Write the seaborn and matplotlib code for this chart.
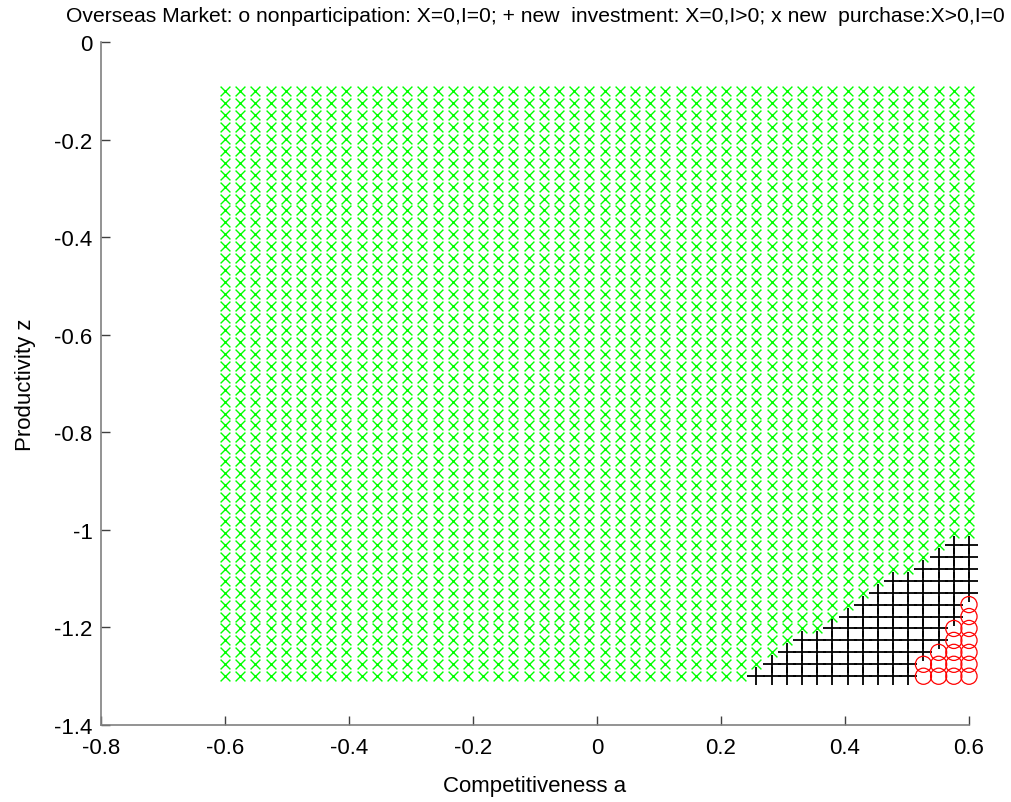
import numpy as np
import pandas as pd
import matplotlib
matplotlib.use("Agg")
import matplotlib.pyplot as plt
import seaborn as sns

# ---- sampling grid of the model (competitiveness a, productivity z) ----
a_min, a_max, n_a = -0.6, 0.6, 50
z_min, z_max, n_z = -1.3, -0.1, 50
a_grid = np.linspace(a_min, a_max, n_a)
z_grid = np.linspace(z_min, z_max, n_z)

# ---- regime boundaries ----
# for each z row (counted from the bottom), first a-column index that is "+" (new investment)
plus_row_start = [35, 36, 37, 38, 40, 41, 42, 43, 44, 46, 47, 48]
# for each z row (from the bottom), first a-column index that is "o" (nonparticipation)
circle_row_start = [46, 46, 47, 48, 48, 49, 49]

regime_names = ["nonparticipation", "new investment", "new purchase"]

title_text = ("Overseas Market: o nonparticipation: X=0,I=0; + new  investment: "
              "X=0,I>0; x new  purchase:X>0,I=0")
xlabel_text = "Competitiveness a"
ylabel_text = "Productivity z"
xticks = [-0.8, -0.6, -0.4, -0.2, 0.0, 0.2, 0.4, 0.6]
xtick_labels = ["-0.8", "-0.6", "-0.4", "-0.2", "0", "0.2", "0.4", "0.6"]
yticks = [0.0, -0.2, -0.4, -0.6, -0.8, -1.0, -1.2, -1.4]
ytick_labels = ["0", "-0.2", "-0.4", "-0.6", "-0.8", "-1", "-1.2", "-1.4"]

rows = []
for j, z in enumerate(z_grid):
    ps = plus_row_start[j] if j < len(plus_row_start) else n_a
    cs = circle_row_start[j] if j < len(circle_row_start) else n_a
    for i, a in enumerate(a_grid):
        if i >= cs:
            reg = regime_names[0]
        elif i >= ps:
            reg = regime_names[1]
        else:
            reg = regime_names[2]
        rows.append((a, z, reg))
df = pd.DataFrame(rows, columns=["a", "z", "regime"])

sns.set_theme(style="white")
plt.rcParams["font.family"] = ["Liberation Sans", "DejaVu Sans"]
plt.rcParams["axes.unicode_minus"] = False

W, H = 1011, 803
fig = plt.figure(figsize=(W / 100, H / 100), dpi=100)
left, right, top, bottom = 101, 969, 43.3, 726
ax = fig.add_axes([left / W, 1 - bottom / H, (right - left) / W, (bottom - top) / H])

sns.scatterplot(data=df[df["regime"] == regime_names[2]], x="a", y="z", marker="x",
                color="#00ff00", s=50, linewidth=1.0, ax=ax, legend=False, clip_on=False)
sns.scatterplot(data=df[df["regime"] == regime_names[1]], x="a", y="z", marker="+",
                color="black", s=150, linewidth=1.3, ax=ax, legend=False, clip_on=False)
sns.scatterplot(data=df[df["regime"] == regime_names[0]], x="a", y="z", marker="o",
                s=135, facecolor="none", edgecolor="#ff0000", linewidth=0.9,
                ax=ax, legend=False, clip_on=False)

ax.set_xlim(-0.8, 0.6)
ax.set_ylim(-1.4, 0.0)
ax.set_xticks(xticks)
ax.set_xticklabels(xtick_labels)
ax.set_yticks(yticks)
ax.set_yticklabels(ytick_labels)

for s in ["top", "right"]:
    ax.spines[s].set_visible(False)
for s in ["left", "bottom"]:
    ax.spines[s].set_color("#808080")
    ax.spines[s].set_linewidth(1.2)

ax.tick_params(axis="both", which="major", bottom=True, left=True, top=False, right=False,
               direction="in", length=6.5, width=1.0, color="#404040",
               labelsize=16, labelcolor="black")
ax.tick_params(axis="x", pad=9)
ax.tick_params(axis="y", pad=6)

ax.set_xlabel(xlabel_text, fontsize=16, color="black", labelpad=12)
ax.set_ylabel(ylabel_text, fontsize=16, color="black", labelpad=13)
ax.set_title(title_text, fontsize=15.2, color="black", pad=15)

fig.savefig("out.png", dpi=100)
